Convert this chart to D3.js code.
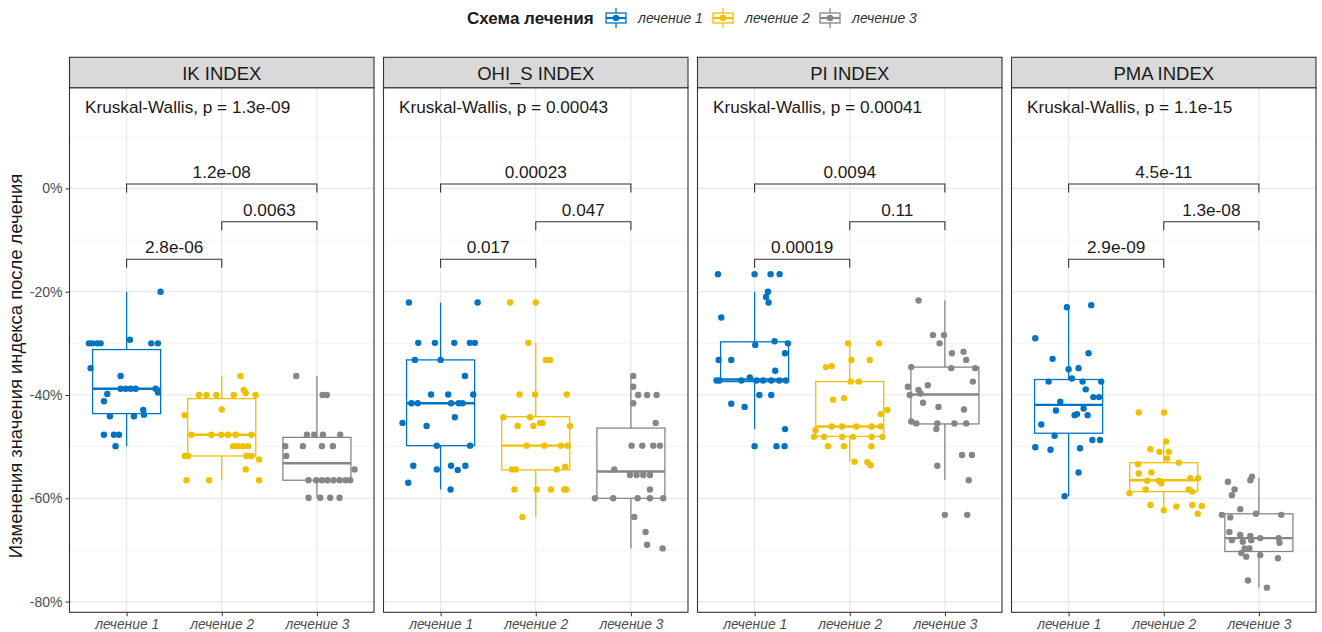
<!DOCTYPE html>
<html lang="ru">
<head>
  <meta charset="UTF-8">
  <script src="https://cdn.jsdelivr.net/npm/d3@7"></script>
  <title>Схема лечения</title>
  <style>
    body { margin: 0; background: #fff; }
    text { font-family: "Liberation Sans", Arial, sans-serif; }
  </style>
</head>
<body>
<svg id="chart" width="1322" height="632"></svg>
<script>
// ---- data ----
const treatments = ["лечение 1", "лечение 2", "лечение 3"];
const colors = ["#0073C2", "#EFC000", "#868686"];
const indices = ["IK INDEX", "OHI_S INDEX", "PI INDEX", "PMA INDEX"];
const kruskalP = ["1.3e-09", "0.00043", "0.00041", "1.1e-15"];
// pairwise p: [1 vs 3, 2 vs 3, 1 vs 2]
const pairP = [
  ["1.2e-08", "0.0063", "2.8e-06"],
  ["0.00023", "0.047", "0.017"],
  ["0.0094", "0.11", "0.00019"],
  ["4.5e-11", "1.3e-08", "2.9e-09"]
];
const yTicks = [0, -20, -40, -60, -80];
const yMinor = [10, -10, -30, -50, -70];

// box stats per treatment: [lower whisker, Q1, median, Q3, upper whisker], %
const boxIK  = [[-49.9, -43.6, -38.8, -31.2, -20], [-56.5, -51.8, -47.7, -40.7, -36.3], [-59.9, -56.5, -53.2, -48.2, -36.3]];
const boxOHI = [[-58.3, -49.8, -41.6, -33.2, -22.1], [-63.6, -54.5, -49.8, -44.2, -29.9], [-69.7, -60, -54.8, -46.4, -36.1]];
const boxPI  = [[-46.6, -37.4, -37.0, -29.7, -20], [-52.9, -48.0, -46.1, -37.4, -30], [-56.5, -45.6, -39.9, -34.6, -21.7]];
const boxPMA = [[-59.6, -47.4, -41.9, -37.0, -23.0], [-62.6, -58.7, -56.5, -53.1, -49.0], [-77.3, -70.3, -67.7, -63.0, -56.0]];

// jittered points: [jitter (category units), value %]
const ptsIK = [
  [[0.357,-20],[-0.396,-30],[-0.36,-30],[-0.308,-30],[-0.273,-30],[0.035,-29.3],[0.259,-30],[0.329,-30],[-0.378,-34.8],[-0.063,-36.3],
   [-0.063,-38.8],[-0.01,-38.8],[0.042,-38.8],[0.095,-38.8],[0.305,-38.8],[0.33,-39.5],[-0.203,-39.8],[-0.238,-41.2],[-0.175,-44.1],[0.077,-44.1],
   [0.182,-43.8],[0.175,-42.9],[-0.238,-47.7],[-0.133,-47.7],[-0.08,-47.7],[-0.116,-49.9]],
  [[0.196,-36.3],[0.231,-39.0],[0.252,-39.6],[-0.238,-40],[-0.161,-40],[-0.056,-40],[0.126,-40],[0.357,-40],[0,-42.8],[-0.389,-43.9],
   [-0.319,-47.7],[-0.109,-47.7],[-0.004,-47.7],[0.067,-47.7],[0.147,-47.7],[0.312,-47.7],[0.119,-49.9],[0.172,-49.9],[0.224,-49.9],[0.277,-49.9],
   [-0.389,-51.8],[-0.354,-51.8],[0.259,-51.8],[0.312,-51.8],[0.392,-52.5],[0.252,-54.4],[-0.371,-56.5],[-0.133,-56.5],[0.392,-56.5]],
  [[-0.217,-36.3],[0.06,-40],[0.105,-40],[-0.105,-47.7],[-0.028,-47.7],[0.063,-47.7],[0.245,-47.7],[-0.333,-49.9],[-0.147,-49.9],[0.053,-49.9],
   [0.168,-49.9],[-0.322,-51.8],[0.396,-54.4],[-0.088,-56.5],[-0.007,-56.5],[0.053,-56.5],[0.112,-56.5],[0.175,-56.5],[0.238,-56.5],[0.298,-56.5],
   [0.35,-56.5],[-0.088,-59.9],[0.035,-59.9],[0.14,-59.9],[0.238,-59.9]]
];
const ptsOHI = [
  [[-0.333,-22.1],[0.389,-22.1],[-0.235,-29.9],[-0.06,-29.9],[0.144,-29.9],[0.308,-29.9],[0.36,-29.9],[-0.27,-33.2],[0,-33.2],[0.256,-36.3],
   [-0.1,-39.9],[0.08,-39.9],[0.343,-39.9],[-0.305,-41.6],[-0.24,-41.6],[0.11,-41.6],[0.19,-41.6],[0.23,-41.6],[-0.4,-45.4],[-0.147,-46.0],
   [0.15,-44.3],[-0.04,-49.8],[0.31,-49.8],[-0.287,-53.7],[-0.04,-54.4],[0.11,-53.7],[0.18,-54.5],[0.26,-53.7],[-0.34,-57.0],[0.105,-58.3]],
  [[-0.27,-22.1],[0,-22.1],[-0.077,-29.9],[0.105,-33.2],[0.15,-33.2],[-0.17,-39.9],[-0.007,-39.9],[0.326,-39.9],[-0.34,-44.3],[-0.06,-44.3],
   [-0.19,-46.0],[-0.025,-46.0],[0.045,-45.4],[0.07,-45.4],[0.36,-46.0],[-0.095,-49.8],[0.09,-49.8],[0.266,-49.8],[0.336,-49.8],[-0.25,-54.4],
   [-0.21,-54.4],[0.22,-54.4],[0.31,-53.9],[-0.224,-58.3],[0.01,-58.3],[0.16,-58.3],[0.3,-58.3],[0.32,-58.3],[-0.14,-63.6]],
  [[0.025,-36.3],[0.025,-38.4],[0.077,-40],[0.17,-40],[0.27,-40],[0.025,-41.6],[0.26,-45.4],[0.007,-49.8],[0.12,-49.8],[0.235,-49.8],
   [0.305,-49.8],[-0.175,-54.4],[-0.01,-55.5],[0.06,-55.5],[0.13,-55.5],[0.2,-55.5],[0.2,-58.3],[-0.378,-60],[-0.186,-60],[0.07,-60],
   [0.2,-60],[0.34,-60],[0.035,-63.6],[0.154,-66.5],[0.17,-69],[0.333,-69.7]]
];
const ptsPI = [
  [[-0.385,-16.6],[0,-16.6],[0.168,-16.6],[0.263,-16.6],[0.14,-20.0],[0.12,-21.0],[0.147,-22.1],[-0.35,-25],[0.007,-30.3],[0.21,-29.6],
   [0.35,-30],[0.32,-31.9],[-0.378,-33.2],[-0.245,-33.2],[0.217,-35.3],[-0.4,-37.2],[-0.37,-37.2],[-0.14,-37.2],[-0.05,-36.6],[0.02,-37.2],
   [0.09,-37.2],[0.175,-37.2],[0.26,-37.2],[0.33,-37.2],[0.05,-40],[0.175,-40],[-0.245,-41.7],[-0.105,-42.3],[0.32,-46.6],[0,-49.9],
   [0.23,-49.9],[0.315,-49.9]],
  [[-0.018,-30],[0.308,-30],[0.018,-33.2],[0.21,-33.2],[-0.25,-34.6],[-0.19,-34.4],[0.01,-37.4],[0.095,-37.4],[-0.175,-40.9],[-0.06,-40.6],
   [0.326,-43.7],[0.396,-42.9],[-0.36,-46.8],[-0.19,-46.1],[-0.08,-46.1],[0.07,-46.1],[0.23,-46.1],[0.326,-46.1],[-0.375,-48.1],[-0.27,-48.1],
   [-0.08,-48.1],[0.035,-48.1],[0.23,-48.1],[0.343,-48.1],[-0.228,-49.9],[-0.06,-49.9],[0.228,-49.9],[0.05,-52.9],[0.186,-53.0],[0.22,-53.6]],
  [[-0.277,-21.7],[-0.126,-28.4],[-0.01,-28.4],[-0.056,-30],[0.074,-31.9],[0.196,-31.6],[0.224,-33.2],[-0.354,-34.6],[0.067,-34.8],[0.319,-34.8],
   [0.294,-37.4],[-0.389,-38.4],[-0.277,-39.0],[-0.18,-38.1],[-0.37,-40],[-0.256,-39.7],[-0.23,-41.5],[-0.067,-42.3],[0.2,-42.8],[-0.354,-45.1],
   [-0.3,-45.5],[-0.08,-45.5],[-0.09,-46.6],[0.1,-45.5],[0.224,-45.5],[0.18,-51.6],[0.284,-51.6],[-0.08,-53.7],[0.25,-56.5],[0,-63.2],
   [0.235,-63.2]]
];
const ptsPMA = [
  [[-0.018,-23.0],[0.238,-22.6],[-0.35,-29.0],[-0.168,-33.0],[0.21,-31.9],[0,-35.0],[0.105,-34.8],[0.035,-36.8],[-0.21,-37.4],[0.147,-37.4],
   [0.343,-37.4],[0.18,-38.9],[0.26,-40.4],[0.32,-40.4],[-0.087,-41.3],[-0.133,-43.0],[0.063,-43.9],[0.088,-43.7],[0.2,-43.9],[0.158,-42.6],
   [-0.287,-45.7],[-0.147,-47.9],[0.25,-48.7],[0.33,-48.7],[-0.35,-50.1],[-0.19,-50.6],[0.12,-50.3],[0.105,-55.0],[-0.042,-59.6]],
  [[-0.263,-43.4],[0.004,-43.4],[0.025,-49.0],[-0.14,-50.5],[-0.045,-51.0],[0.053,-51.0],[0.035,-52.3],[0.158,-53.1],[-0.27,-53.4],[-0.263,-55.2],
   [-0.13,-55.0],[-0.175,-56.6],[-0.05,-56.6],[-0.025,-57.1],[0.28,-56.1],[0.36,-56.1],[-0.19,-58.3],[-0.36,-59.0],[0.263,-58.3],[0.3,-58.7],
   [-0.14,-61.3],[0,-62.3],[0.133,-61.6],[0.3,-61.3],[0.4,-61.5],[0.357,-63.0]],
  [[-0.073,-55.8],[-0.09,-56.5],[-0.326,-56.8],[-0.256,-58.3],[-0.284,-59.4],[-0.196,-62.1],[-0.389,-63.2],[-0.301,-63.7],[-0.03,-63.0],[0.235,-63.2],
   [-0.31,-66.5],[-0.196,-67.1],[-0.09,-67.3],[-0.08,-68.1],[-0.284,-68.1],[-0.17,-68.4],[0.014,-67.7],[0.207,-67.7],[0.217,-68.6],[-0.15,-69.7],
   [-0.1,-69.7],[-0.185,-70.6],[-0.133,-71.3],[0.014,-71.0],[0.2,-71.6],[-0.115,-75.9],[0.084,-77.3]]
];

const boxes = [boxIK, boxOHI, boxPI, boxPMA];
const points = [ptsIK, ptsOHI, ptsPI, ptsPMA];

// ---- layout ----
let svg = d3.select("#chart");
const plotTop = 87.7, plotBottom = 612.3, stripTop = 57.3;

let panelX = d3.scaleBand()
  .domain(indices)
  .range([69.5, 1316])
  .paddingInner(9.5 / 314)
  .paddingOuter(0);

let y = d3.scaleLinear().domain([-82.07, 19.5]).range([plotBottom, plotTop]);

// y axis title
svg.append("text")
  .attr("transform", `translate(22,366) rotate(-90)`)
  .attr("text-anchor", "middle")
  .style("font-size", "18.4px")
  .attr("fill", "#1a1a1a")
  .text("Изменения значения индекса после лечения");

// y axis on first panel
let yAxis = svg.append("g")
  .attr("transform", `translate(${panelX(indices[0])},0)`)
  .call(d3.axisLeft(y).tickValues(yTicks).tickFormat(d => d + "%").tickSize(4).tickPadding(3));
yAxis.select(".domain").remove();
yAxis.selectAll("line").attr("stroke", "#333");
yAxis.selectAll("text").attr("fill", "#4d4d4d").style("font-size", "14px")
  .style("font-family", "'Liberation Sans', Arial, sans-serif");

indices.forEach((name, pi) => {
  let x0 = panelX(name), w = panelX.bandwidth();
  let x = d3.scalePoint().domain(treatments).range([x0, x0 + w]).padding(0.6);
  let step = x.step();
  let g = svg.append("g");

  // grid
  g.selectAll(".minor").data(yMinor).join("line")
    .attr("x1", x0).attr("x2", x0 + w)
    .attr("y1", d => y(d)).attr("y2", d => y(d))
    .attr("stroke", "#ededed").attr("stroke-width", 0.6);
  g.selectAll(".major").data(yTicks).join("line")
    .attr("x1", x0).attr("x2", x0 + w)
    .attr("y1", d => y(d)).attr("y2", d => y(d))
    .attr("stroke", "#e6e6e6").attr("stroke-width", 1.1);
  g.selectAll(".vgrid").data(treatments).join("line")
    .attr("x1", d => x(d)).attr("x2", d => x(d))
    .attr("y1", plotTop).attr("y2", plotBottom)
    .attr("stroke", "#e6e6e6").attr("stroke-width", 1.1);

  // boxes
  const bw = 0.715 * step;
  boxes[pi].forEach((b, ci) => {
    let cx = x(treatments[ci]), col = colors[ci];
    let bg = g.append("g").attr("stroke", col).attr("fill", "none");
    bg.append("line").attr("x1", cx).attr("x2", cx).attr("y1", y(b[0])).attr("y2", y(b[1])).attr("stroke-width", 1.3);
    bg.append("line").attr("x1", cx).attr("x2", cx).attr("y1", y(b[3])).attr("y2", y(b[4])).attr("stroke-width", 1.3);
    bg.append("rect").attr("x", cx - bw / 2).attr("width", bw)
      .attr("y", y(b[3])).attr("height", y(b[1]) - y(b[3]))
      .attr("fill", "#fff").attr("stroke-width", 1.3);
    bg.append("line").attr("x1", cx - bw / 2).attr("x2", cx + bw / 2)
      .attr("y1", y(b[2])).attr("y2", y(b[2])).attr("stroke-width", 2.4);
  });

  // jitter points
  points[pi].forEach((pts, ci) => {
    g.append("g").selectAll("circle").data(pts).join("circle")
      .attr("cx", d => x(treatments[ci]) + d[0] * step)
      .attr("cy", d => y(d[1]))
      .attr("r", 3.2)
      .attr("fill", colors[ci]);
  });

  // Kruskal-Wallis label
  g.append("text")
    .attr("x", x0 + 15.5).attr("y", 112.5)
    .style("font-size", "17.2px").attr("fill", "#1a1a1a")
    .text("Kruskal-Wallis, p = " + kruskalP[pi]);

  // brackets
  const brackets = [[0, 2, 0.85], [1, 2, -6.45], [0, 1, -13.7]];
  brackets.forEach((br, bi) => {
    let xa = x(treatments[br[0]]), xb = x(treatments[br[1]]), yy = y(br[2]);
    g.append("path")
      .attr("d", `M${xa},${yy + 8.5}V${yy}H${xb}V${yy + 8.5}`)
      .attr("fill", "none").attr("stroke", "#333").attr("stroke-width", 1.1);
    g.append("text")
      .attr("x", (xa + xb) / 2).attr("y", yy - 5.8)
      .attr("text-anchor", "middle")
      .style("font-size", "17.2px").attr("fill", "#1a1a1a")
      .text(pairP[pi][bi]);
  });

  // panel border
  g.append("rect").attr("x", x0).attr("y", plotTop).attr("width", w).attr("height", plotBottom - plotTop)
    .attr("fill", "none").attr("stroke", "#333").attr("stroke-width", 1.1);

  // strip
  g.append("rect").attr("x", x0).attr("y", stripTop).attr("width", w).attr("height", plotTop - stripTop)
    .attr("fill", "#d9d9d9").attr("stroke", "#333").attr("stroke-width", 1.1);
  g.append("text")
    .attr("x", x0 + w / 2).attr("y", (stripTop + plotTop) / 2 + 0.5)
    .attr("text-anchor", "middle").attr("dominant-baseline", "central")
    .style("font-size", "18.5px").attr("fill", "#1a1a1a")
    .text(name);

  // x axis
  let xa = g.append("g").attr("transform", `translate(0,${plotBottom})`)
    .call(d3.axisBottom(x).tickSize(4).tickPadding(3));
  xa.select(".domain").remove();
  xa.selectAll("line").attr("stroke", "#333");
  xa.selectAll("text").attr("fill", "#4d4d4d").style("font-size", "13.8px").style("font-style", "italic")
    .style("font-family", "'Liberation Sans', Arial, sans-serif");
});

// ---- legend ----
let legend = svg.append("g");
legend.append("text")
  .attr("x", 467).attr("y", 24)
  .style("font-size", "17px").style("font-weight", "bold").attr("fill", "#1a1a1a")
  .text("Схема лечения");

const keyX = [605, 712, 819];
treatments.forEach((t, i) => {
  let kx = keyX[i], ky = 7, col = colors[i];
  let k = legend.append("g").attr("stroke", col).attr("fill", "none");
  k.append("line").attr("x1", kx + 11).attr("x2", kx + 11).attr("y1", ky + 1).attr("y2", ky + 6).attr("stroke-width", 1.3);
  k.append("line").attr("x1", kx + 11).attr("x2", kx + 11).attr("y1", ky + 16).attr("y2", ky + 21).attr("stroke-width", 1.3);
  k.append("rect").attr("x", kx + 1).attr("y", ky + 6).attr("width", 20).attr("height", 10).attr("stroke-width", 1.3);
  k.append("line").attr("x1", kx + 1).attr("x2", kx + 21).attr("y1", ky + 11).attr("y2", ky + 11).attr("stroke-width", 2.2);
  legend.append("circle").attr("cx", kx + 11).attr("cy", ky + 11).attr("r", 3.2).attr("fill", col);
  legend.append("text")
    .attr("x", kx + 33).attr("y", 23)
    .style("font-size", "14px").style("font-style", "italic").attr("fill", "#333")
    .text(t);
});
</script>
</body>
</html>
